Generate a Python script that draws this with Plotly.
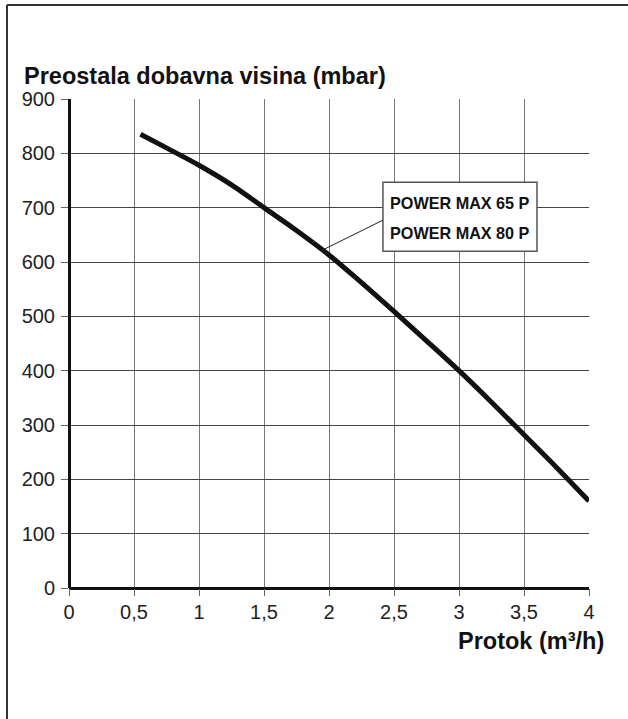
import plotly.graph_objects as go

# Data
flow = [0.55, 0.75, 1.0, 1.25, 1.5, 1.75, 2.0, 2.25, 2.5, 2.75, 3.0, 3.25, 3.5, 3.75, 4.0]
head = [835, 810, 778, 742, 700, 658, 613, 562, 509, 455, 400, 342, 282, 222, 160]

x_tickvals = [0, 0.5, 1, 1.5, 2, 2.5, 3, 3.5, 4]
x_ticktext = ["0", "0,5", "1", "1,5", "2", "2,5", "3", "3,5", "4"]
y_tickvals = [0, 100, 200, 300, 400, 500, 600, 700, 800, 900]
y_ticktext = ["0", "100", "200", "300", "400", "500", "600", "700", "800", "900"]

series_labels = ["POWER MAX 65 P", "POWER MAX 80 P"]
y_title = "Preostala dobavna visina (mbar)"
x_title = "Protok (m³/h)"

FONT = "Liberation Sans, Arial, Helvetica, sans-serif"

fig = go.Figure()
fig.add_trace(go.Scatter(
    x=flow, y=head, mode="lines",
    line=dict(color="#111111", width=5, shape="spline"),
    hoverinfo="skip", showlegend=False,
))

W, H = 628, 719
L, R, T, B = 69, 39, 99, 131
pw, ph = W - L - R, H - T - B

def px(xp):
    return (xp - L) / pw

def py(yp):
    return (H - B - yp) / ph

shapes = [
    # outer frame (top + left edges)
    dict(type="line", xref="paper", yref="paper", x0=px(7), x1=px(640), y0=py(5), y1=py(5),
         line=dict(color="#333333", width=2)),
    dict(type="line", xref="paper", yref="paper", x0=px(7), x1=px(7), y0=py(5), y1=py(730),
         line=dict(color="#333333", width=2)),
    # label box
    dict(type="rect", xref="x", yref="y", x0=2.415, x1=3.6, y0=620, y1=747,
         fillcolor="white", line=dict(color="#555555", width=1.5), layer="above"),
    # leader line
    dict(type="line", xref="x", yref="y", x0=1.95, y0=622, x1=2.415, y1=677,
         line=dict(color="#222222", width=1), layer="above"),
]

annotations = [
    dict(text="<b>" + y_title + "</b>", xref="paper", yref="paper", x=px(22), y=py(76),
         xanchor="left", yanchor="middle", showarrow=False,
         font=dict(family=FONT, size=23.5, color="#111111")),
    dict(text="<b>" + x_title + "</b>", xref="paper", yref="paper", x=px(606), y=py(641),
         xanchor="right", yanchor="middle", showarrow=False,
         font=dict(family=FONT, size=23.5, color="#111111")),
]
for lbl, yv in zip(series_labels, [709, 653]):
    annotations.append(dict(
        text="<b>" + lbl + "</b>", x=2.455, y=yv, xref="x", yref="y",
        xanchor="left", yanchor="middle", showarrow=False, align="left",
        font=dict(family=FONT, size=16.2, color="#111111")))

fig.update_layout(
    width=W, height=H,
    margin=dict(l=L, r=R, t=T, b=B, pad=0),
    paper_bgcolor="white", plot_bgcolor="white",
    shapes=shapes, annotations=annotations,
    showlegend=False,
)
fig.update_xaxes(
    range=[0, 4], tickvals=x_tickvals, ticktext=x_ticktext,
    showgrid=True, gridcolor="#777777", gridwidth=1,
    showline=False, zeroline=True, zerolinecolor="#111111", zerolinewidth=3,
    ticks="outside", ticklen=7, tickcolor="#666666", tickwidth=1,
    tickfont=dict(family=FONT, size=20, color="#222222"),
    ticklabelstandoff=-1,
    fixedrange=True,
)
fig.update_yaxes(
    range=[0, 900], tickvals=y_tickvals, ticktext=y_ticktext,
    showgrid=True, gridcolor="#444444", gridwidth=1,
    showline=False, zeroline=True, zerolinecolor="#111111", zerolinewidth=3,
    ticks="outside", ticklen=7, tickcolor="#666666", tickwidth=1,
    tickfont=dict(family=FONT, size=20, color="#222222"),
    ticklabelstandoff=2,
    fixedrange=True,
)

fig.write_html("out.html", config={"displayModeBar": False},
               post_script="document.body.style.margin='0px';")
